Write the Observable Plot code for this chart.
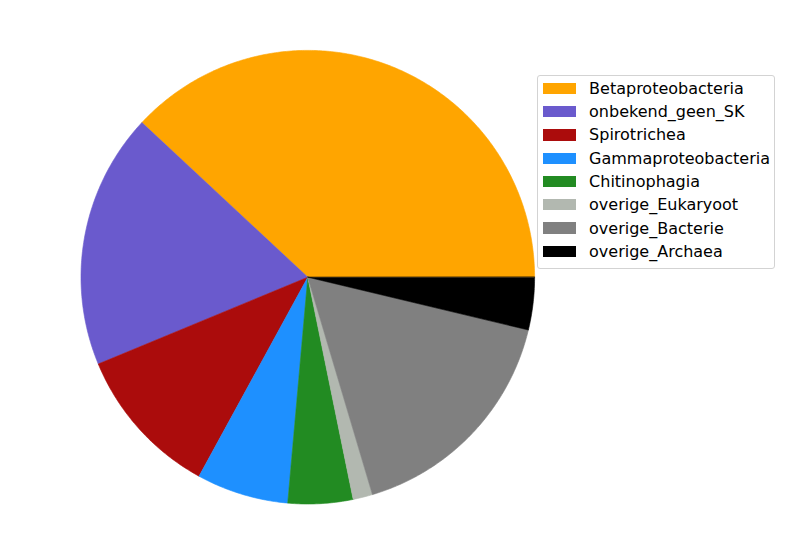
<!DOCTYPE html>
<html><head><meta charset="utf-8">
<script src="https://cdn.jsdelivr.net/npm/d3@7"></script>
<script src="https://cdn.jsdelivr.net/npm/@observablehq/plot@0.6"></script>
<style>
body{margin:0;background:#fff;font-family:"DejaVu Sans",sans-serif;}
#wrap{position:relative;width:799px;height:548px;overflow:hidden;}
#legend{position:absolute;left:537px;top:75px;width:238px;height:194px;box-sizing:border-box;border:1px solid #d3d3d3;border-radius:3px;background:rgba(255,255,255,0.8);}
.row{position:absolute;left:5.3px;height:23.3px;display:flex;align-items:center;font-size:16px;color:#000;white-space:nowrap;}
.sw{width:32.4px;height:11.3px;margin-right:13.4px;flex:none;}
</style></head>
<body>
<div id="wrap"></div>
<script>
const categories = ["Betaproteobacteria","onbekend_geen_SK","Spirotrichea","Gammaproteobacteria","Chitinophagia","overige_Eukaryoot","overige_Bacterie","overige_Archaea"];
const values = [38.06, 18.19, 10.79, 6.55, 4.62, 1.39, 16.66, 3.74];
const colors = ["#FFA500","#6A5ACD","#AB0C0C","#1E90FF","#228B22","#B2B8B0","#808080","#000000"];

const total = d3.sum(values);
const pts = [];
let cum = 0;
values.forEach((v, i) => {
  const a0 = cum / total * 2 * Math.PI;
  const a1 = (cum + v) / total * 2 * Math.PI;
  cum += v;
  pts.push({name: categories[i], x: 0, y: 0});
  const n = Math.max(2, Math.ceil((a1 - a0) / 0.01));
  for (let k = 0; k <= n; k++) {
    const a = a0 + (a1 - a0) * k / n;
    pts.push({name: categories[i], x: Math.cos(a), y: Math.sin(a)});
  }
});

const chart = Plot.plot({
  width: 799, height: 548,
  marginLeft: 80.5, marginRight: 264.9, marginTop: 49.9, marginBottom: 44.5,
  x: {domain: [-1, 1], axis: null},
  y: {domain: [-1, 1], axis: null},
  color: {domain: categories, range: colors},
  marks: [
    Plot.line(pts, {x: "x", y: "y", z: "name", fill: "name", stroke: "name", strokeWidth: 0.6, curve: "linear-closed"})
  ]
});
const wrap = document.getElementById("wrap");
wrap.appendChild(chart);

const legend = document.createElement("div");
legend.id = "legend";
categories.forEach((c, i) => {
  const row = document.createElement("div");
  row.className = "row";
  row.style.top = (88.3 - 75 - 1 - 11.65 + i * 23.3) + "px";
  const sw = document.createElement("div");
  sw.className = "sw";
  sw.style.background = colors[i];
  const t = document.createElement("span");
  t.textContent = c;
  row.appendChild(sw); row.appendChild(t);
  legend.appendChild(row);
});
wrap.appendChild(legend);
</script>
</body></html>
